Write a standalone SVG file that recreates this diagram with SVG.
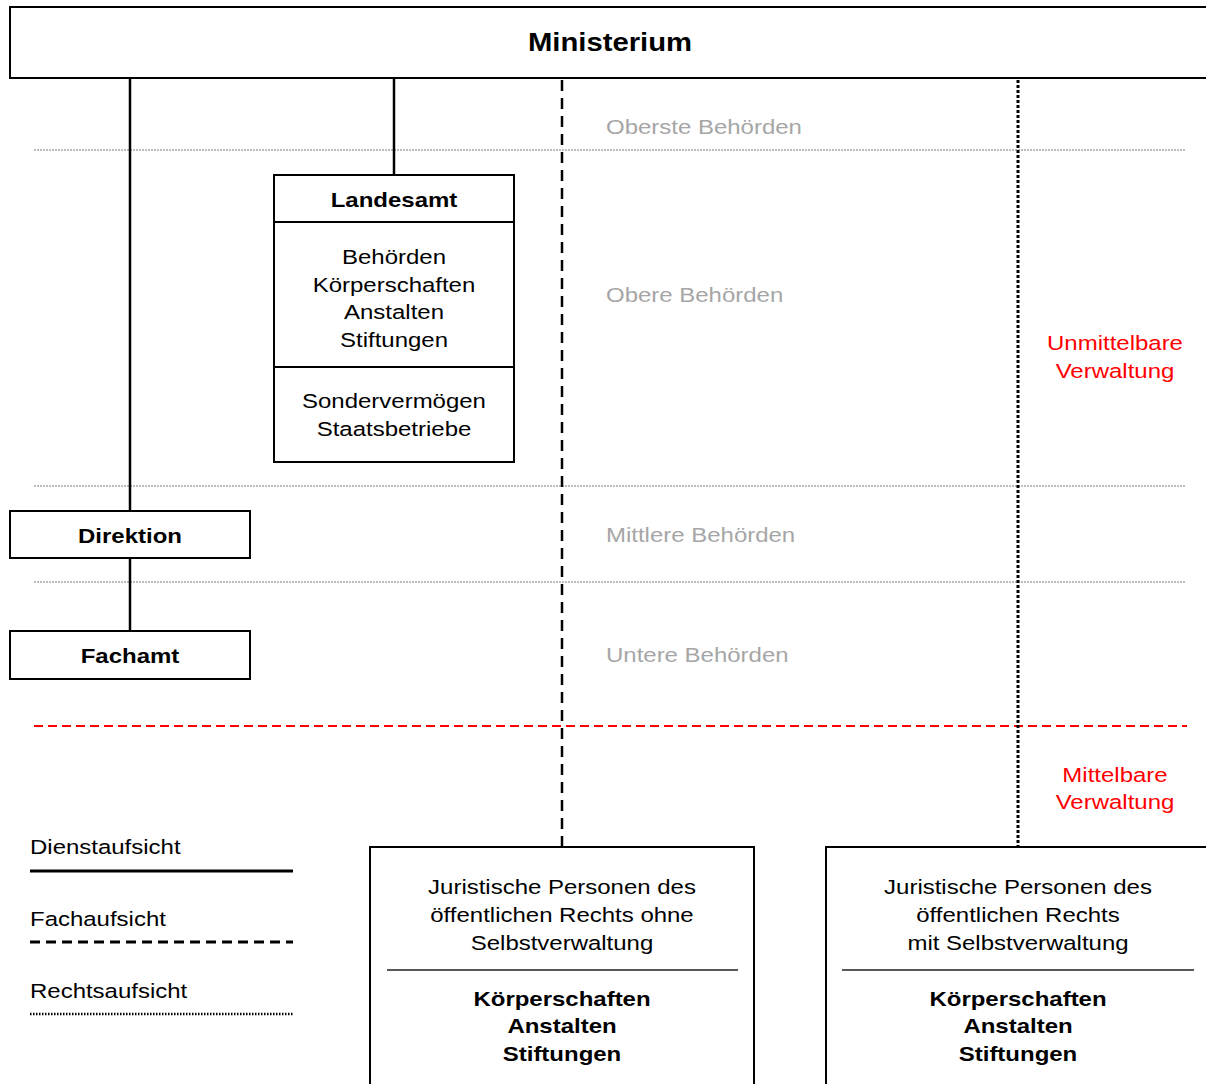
<svg xmlns="http://www.w3.org/2000/svg" width="1206" height="1084" viewBox="0 0 1206 1084">
<style>
text{font-family:"Liberation Sans",Arial,sans-serif;font-size:20.5px;fill:#000}
.c{text-anchor:middle}
.b{font-weight:bold}
.g{fill:#a6a6a6}
.r{fill:#ff0000}
.box{fill:#fff;stroke:#000;stroke-width:2}
.sep{stroke:#000;stroke-width:2}
.thin{stroke:#222;stroke-width:1.3}
.solid{stroke:#000;stroke-width:2.5;fill:none}
.dash{stroke:#000;stroke-width:2.5;stroke-dasharray:11 7;fill:none}
.dot{stroke:#000;stroke-width:3;stroke-dasharray:3 2;fill:none}
.grid{stroke:#a6a6a6;stroke-width:1.5;stroke-dasharray:2 1;fill:none}
.red{stroke:#ff0000;stroke-width:2;stroke-dasharray:9 5;fill:none}
</style>
<rect width="1206" height="1084" fill="#fff"/>
<g id="levels">
<line class="grid" x1="34" y1="150" x2="1185" y2="150"/>
<line class="grid" x1="34" y1="486" x2="1185" y2="486"/>
<line class="grid" x1="34" y1="582" x2="1185" y2="582"/>
<line class="red" x1="34" y1="726" x2="1187" y2="726"/>
<g transform="translate(606,134) scale(1.17,1)"><text class="g" x="0" y="0">Oberste Behörden</text></g>
<g transform="translate(606,302) scale(1.17,1)"><text class="g" x="0" y="0">Obere Behörden</text></g>
<g transform="translate(606,542) scale(1.17,1)"><text class="g" x="0" y="0">Mittlere Behörden</text></g>
<g transform="translate(606,662) scale(1.17,1)"><text class="g" x="0" y="0">Untere Behörden</text></g>
<g transform="translate(1115,0) scale(1.17,1)"><text class="r c" x="0" y="350">Unmittelbare</text><text class="r c" x="0" y="378">Verwaltung</text></g>
<g transform="translate(1115,0) scale(1.17,1)"><text class="r c" x="0" y="782">Mittelbare</text><text class="r c" x="0" y="809">Verwaltung</text></g>
</g>
<g id="connectors">
<line class="solid" x1="130" y1="78" x2="130" y2="511"/>
<line class="solid" x1="130" y1="558" x2="130" y2="631"/>
<line class="solid" x1="394" y1="78" x2="394" y2="175"/>
<line class="dash" x1="562" y1="80" x2="562" y2="847"/>
<line class="dot" x1="1018" y1="80" x2="1018" y2="847"/>
</g>
<g id="ministerium">
<rect class="box" x="10" y="7" width="1210" height="71"/>
<g transform="translate(610,51) scale(1.17,1)"><text class="c b" x="0" y="0" style="font-size:25px">Ministerium</text></g>
</g>
<g id="landesamt">
<rect class="box" x="274" y="175" width="240" height="287"/>
<line class="sep" x1="274" y1="222" x2="514" y2="222"/>
<line class="sep" x1="274" y1="367" x2="514" y2="367"/>
<g transform="translate(394,0) scale(1.17,1)">
<text class="c b" x="0" y="207">Landesamt</text>
<text class="c" x="0" y="264">Behörden</text>
<text class="c" x="0" y="292">Körperschaften</text>
<text class="c" x="0" y="319">Anstalten</text>
<text class="c" x="0" y="347">Stiftungen</text>
<text class="c" x="0" y="408">Sondervermögen</text>
<text class="c" x="0" y="436">Staatsbetriebe</text>
</g>
</g>
<g id="direktion">
<rect class="box" x="10" y="511" width="240" height="47"/>
<g transform="translate(130,543) scale(1.17,1)"><text class="c b" x="0" y="0">Direktion</text></g>
</g>
<g id="fachamt">
<rect class="box" x="10" y="631" width="240" height="48"/>
<g transform="translate(130,663) scale(1.17,1)"><text class="c b" x="0" y="0">Fachamt</text></g>
</g>
<g id="jp-ohne">
<rect class="box" x="370" y="847" width="384" height="250"/>
<line class="thin" x1="387" y1="970" x2="738" y2="970"/>
<g transform="translate(562,0) scale(1.17,1)">
<text class="c" x="0" y="894">Juristische Personen des</text>
<text class="c" x="0" y="922">öffentlichen Rechts ohne</text>
<text class="c" x="0" y="950">Selbstverwaltung</text>
<text class="c b" x="0" y="1006">Körperschaften</text>
<text class="c b" x="0" y="1033">Anstalten</text>
<text class="c b" x="0" y="1061">Stiftungen</text>
</g>
</g>
<g id="jp-mit">
<rect class="box" x="826" y="847" width="400" height="250"/>
<line class="thin" x1="842" y1="970" x2="1194" y2="970"/>
<g transform="translate(1018,0) scale(1.17,1)">
<text class="c" x="0" y="894">Juristische Personen des</text>
<text class="c" x="0" y="922">öffentlichen Rechts</text>
<text class="c" x="0" y="950">mit Selbstverwaltung</text>
<text class="c b" x="0" y="1006">Körperschaften</text>
<text class="c b" x="0" y="1033">Anstalten</text>
<text class="c b" x="0" y="1061">Stiftungen</text>
</g>
</g>
<g id="legend">
<g transform="translate(30,0) scale(1.17,1)">
<text x="0" y="854">Dienstaufsicht</text>
<text x="0" y="926">Fachaufsicht</text>
<text x="0" y="998">Rechtsaufsicht</text>
</g>
<line x1="30" y1="871" x2="293" y2="871" stroke="#000" stroke-width="3"/>
<line x1="30" y1="942" x2="293" y2="942" stroke="#000" stroke-width="3" stroke-dasharray="10 6"/>
<line x1="30" y1="1014" x2="293" y2="1014" stroke="#000" stroke-width="2.5" stroke-dasharray="1.5 1.5"/>
</g>
</svg>
